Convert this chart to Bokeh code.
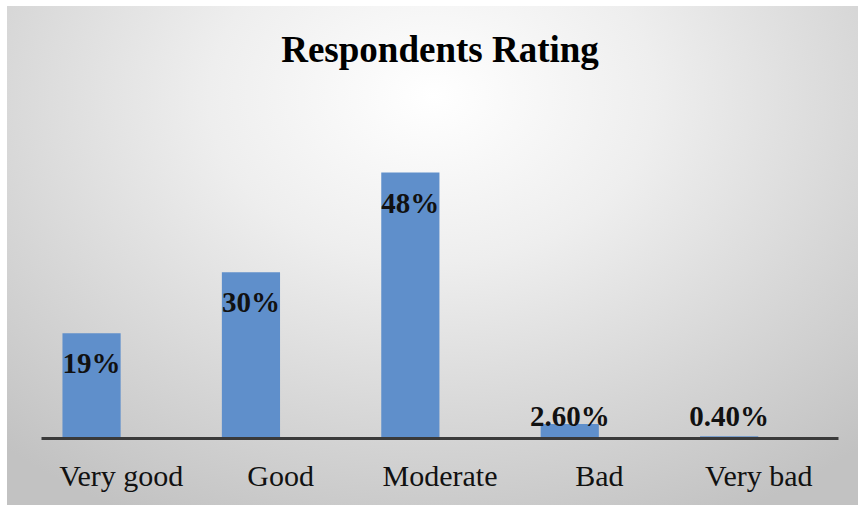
from bokeh.plotting import figure
from bokeh.models import FactorRange, Range1d, ColumnDataSource
from bokeh.transform import dodge
from bokeh.core.properties import value
from bokeh.embed import file_html
from bokeh.resources import INLINE

categories = ["Very good", "Good", "Moderate", "Bad", "Very bad"]
percent = [19, 30, 48, 2.6, 0.4]
labels = ["19%", "30%", "48%", "2.60%", "0.40%"]

SERIF = "Liberation Serif"

p = figure(width=851, height=499, output_backend="svg", toolbar_location=None,
           x_range=FactorRange(*categories, range_padding=0),
           y_range=Range1d(0, 65.7),
           min_border_left=34, min_border_right=20, min_border_top=68, min_border_bottom=67,
           title="Respondents Rating")
p.styles = {"margin-left": "7px", "margin-top": "6px",
            "background": "radial-gradient(ellipse 75% 95% at 50% 18%, #ffffff 0%, #eeeeee 35%, #d6d6d6 70%, #c2c2c2 100%)"}
p.border_fill_color = None
p.background_fill_color = None
p.outline_line_color = None
p.grid.visible = False
p.yaxis.visible = False

p.title.align = "center"
p.title.text_font = SERIF
p.title.text_font_size = "37px"
p.title.text_font_style = "bold"
p.title.text_color = "#000000"

ax = p.xaxis[0]
ax.axis_line_color = "#3a3a3a"
ax.axis_line_width = 3
ax.major_tick_line_color = None
ax.minor_tick_line_color = None
ax.major_label_text_font = SERIF
ax.major_label_text_font_size = "30px"
ax.major_label_text_color = "#111111"
ax.major_label_standoff = 14

src = ColumnDataSource(dict(cat=categories, val=percent, lab=labels))
shift = dodge("cat", -0.186, range=p.x_range)
p.vbar(x=shift, top="val", width=0.365, source=src, fill_color="#5f8fcb", line_color=None)

big = [i for i, v in enumerate(percent) if v >= 10]
small = [i for i, v in enumerate(percent) if v < 10]
src_big = ColumnDataSource(dict(cat=[categories[i] for i in big], val=[percent[i] for i in big],
                                lab=[labels[i] for i in big]))
src_small = ColumnDataSource(dict(cat=[categories[i] for i in small], val=[0 for i in small],
                                  lab=[labels[i] for i in small]))
p.text(x=dodge("cat", -0.186, range=p.x_range), y="val", text="lab", source=src_big,
       y_offset=30, text_align="center", text_baseline="middle",
       text_font=value(SERIF), text_font_size="29px", text_font_style="bold", text_color="#111111")
p.text(x=dodge("cat", -0.186, range=p.x_range), y="val", text="lab", source=src_small,
       y_offset=-23, text_align="center", text_baseline="middle",
       text_font=value(SERIF), text_font_size="29px", text_font_style="bold", text_color="#111111")

open("out.html", "w").write(file_html(p, INLINE))
